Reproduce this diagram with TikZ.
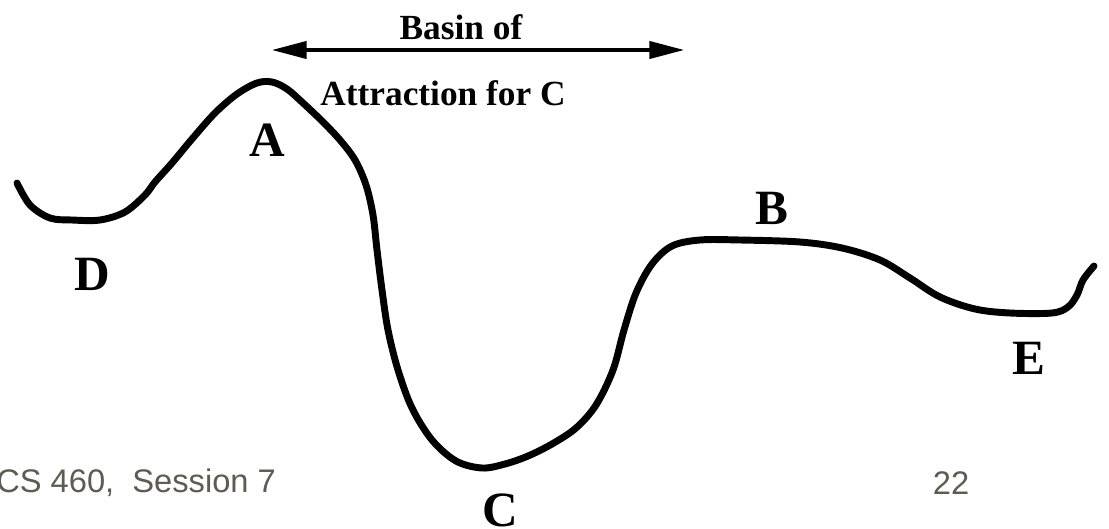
\documentclass[tikz,border=0pt]{standalone}
\usepackage{fontspec}
\setmainfont{Liberation Serif}
\newfontfamily\footfont{Liberation Sans}
\usetikzlibrary{arrows.meta}
\definecolor{footgray}{RGB}{95,90,82}
\begin{document}
\begin{tikzpicture}[x=0.75pt,y=-0.75pt,
  lbl/.style={font=\fontsize{37}{40}\selectfont\bfseries, inner sep=0pt},
  captext/.style={font=\fontsize{26.5}{30}\selectfont\bfseries, inner sep=0pt},
  foot/.style={font=\footfont\fontsize{24.5}{28}\selectfont, text=footgray, inner sep=0pt},
  landscape/.style={line width=5.2pt, line cap=round, line join=round},
  span/.style={line width=2.3pt, {Triangle[length=26pt,width=13pt]}-{Triangle[length=26pt,width=13pt]}}]
\useasboundingbox (0,0) rectangle (1109,528);
\draw[landscape] plot[smooth, tension=0.55] coordinates {
 (17,183) (30,205) (50,218) (72,220) (100,220) (125,212) (145,195) (155,182)
 (172,163) (192,139) (215,113) (237,94) (257,83) (272,82) (287,89) (303,103)
 (322,121) (340,140) (355,160) (366,185) (373,215) (377,250) (382,290)
 (388,330) (398,370) (412,408) (432,440) (456,461) (482,468) (505,464)
 (528,456) (552,444) (576,428) (596,405) (613,370) (624,330) (636,293)
 (652,264) (672,246) (700,240) (740,240) (800,242) (842,248) (880,260)
 (910,278) (940,297) (975,309) (1010,313) (1052,313) (1068,307) (1077,295)
 (1083,280) (1094,266)};
\coordinate (arrL) at (272,50);
\coordinate (arrR) at (684,50);
\draw[span] (arrL) -- (arrR);
\node[captext] (basin) at (461,27) {Basin of};
\node[captext] (attr) at (443,93) {Attraction for C};
\node[lbl] (A) at (267,140) {A};
\node[lbl] (B) at (772,208) {B};
\node[lbl] (C) at (500,510) {C};
\node[lbl] (D) at (92,274) {D};
\node[lbl] (E) at (1029,358) {E};
\node[foot, anchor=west] (sess) at (-4,483) {CS 460,~ Session 7};
\node[foot] (page) at (951,483) {22};
\end{tikzpicture}
\end{document}
